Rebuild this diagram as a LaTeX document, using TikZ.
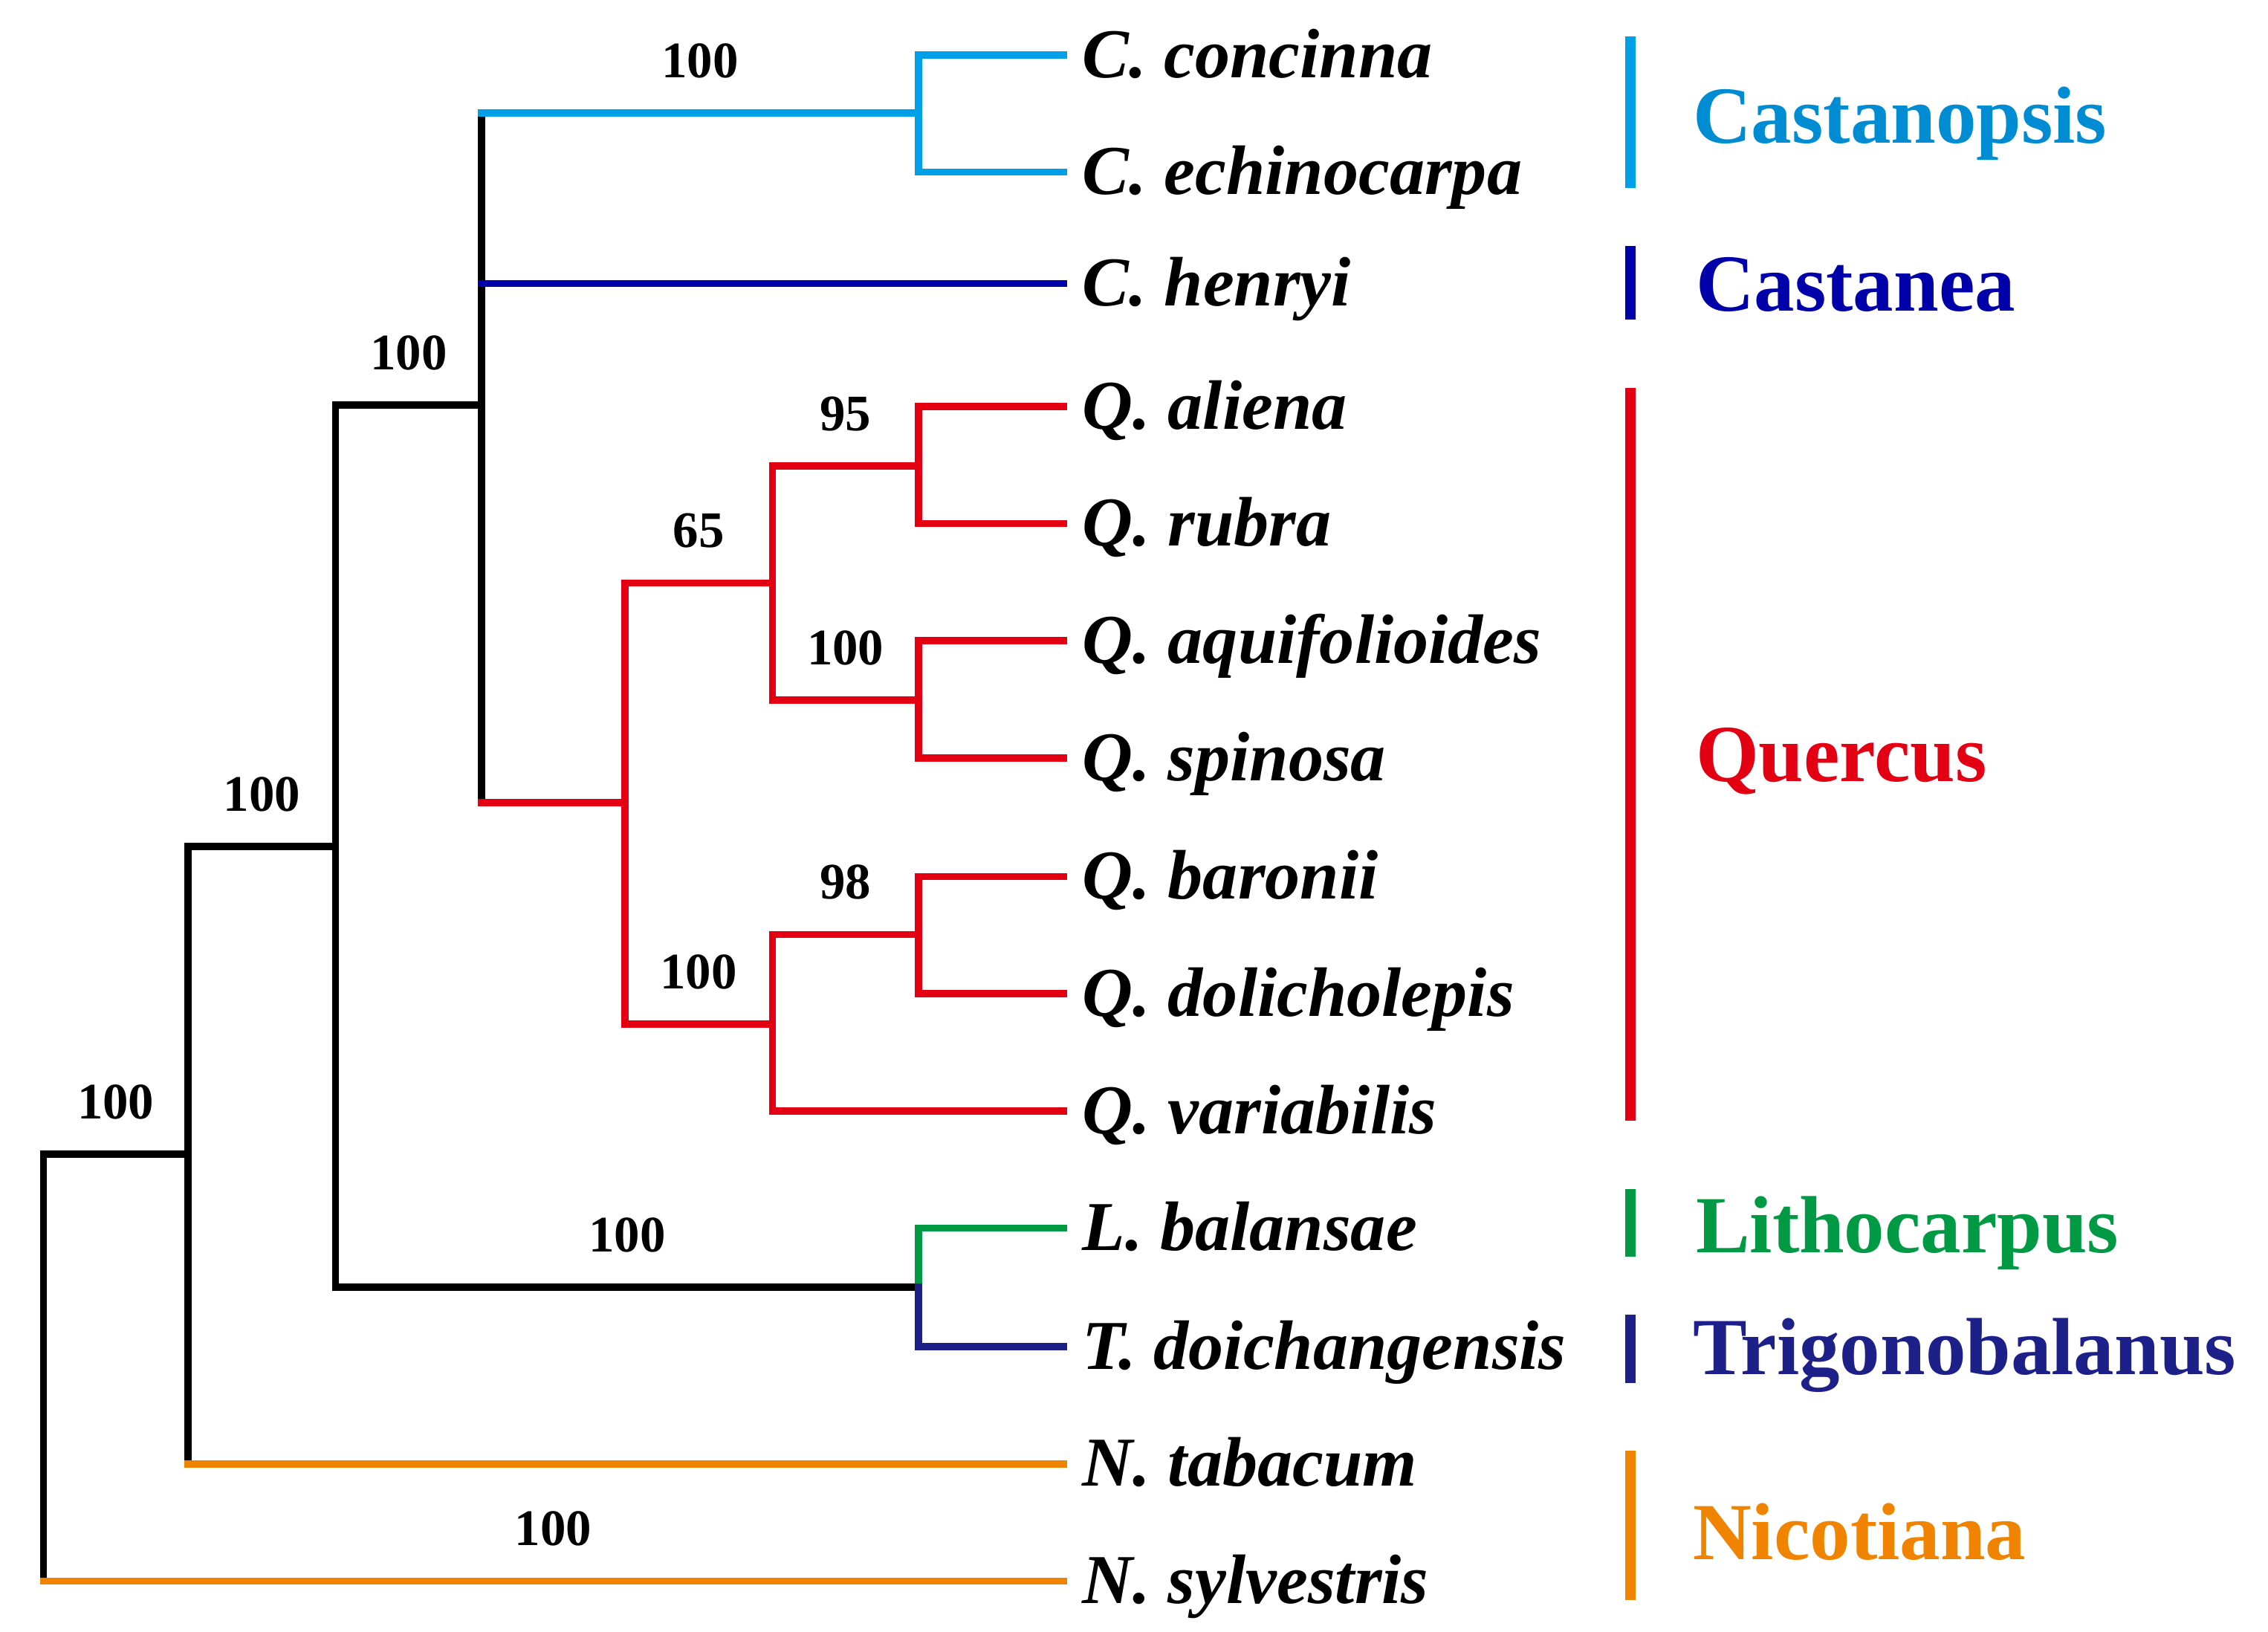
\documentclass[tikz,border=0pt]{standalone}
\usepackage{fontspec}
\setmainfont{Liberation Serif}
\definecolor{cLB}{RGB}{0,160,233}
\definecolor{cLBt}{RGB}{0,140,210}
\definecolor{cCa}{RGB}{0,0,170}
\definecolor{cRd}{RGB}{228,0,18}
\definecolor{cGr}{RGB}{0,153,68}
\definecolor{cTr}{RGB}{29,32,136}
\definecolor{cOr}{RGB}{240,131,0}
\begin{document}
\begin{tikzpicture}[x=0.5pt,y=-0.5pt,
  br/.style={line width=2.5pt, line cap=rect},
  leaf/.style={anchor=base west, inner sep=0pt, font=\fontsize{24.2}{29}\selectfont\bfseries\itshape},
  grp/.style={anchor=base west, inner sep=0pt, font=\fontsize{28}{34}\selectfont\bfseries},
  bs/.style={midway, yshift=18pt, inner sep=0pt, text=black, font=\fontsize{17.7}{21}\selectfont\bfseries},
  bar/.style={line width=3.6pt}]
\useasboundingbox (0,0) rectangle (1568,1128);
% internal nodes
\coordinate (root) at (30,945);
\coordinate (A) at (130,798);
\coordinate (B) at (232,585);
\coordinate (C) at (333,280);
\coordinate (E) at (635,78);
\coordinate (Q) at (432,555);
\coordinate (Q1) at (534,403);
\coordinate (F) at (635,322);
\coordinate (G) at (635,484);
\coordinate (Q2) at (534,708);
\coordinate (H) at (635,646);
\coordinate (D) at (635,890);
% leaves
\coordinate (l1) at (735,38);
\coordinate (l2) at (735,119);
\coordinate (l3) at (735,196);
\coordinate (l4) at (735,281);
\coordinate (l5) at (735,362);
\coordinate (l6) at (735,443);
\coordinate (l7) at (735,524);
\coordinate (l8) at (735,606);
\coordinate (l9) at (735,687);
\coordinate (l10) at (735,768);
\coordinate (l11) at (735,849);
\coordinate (l12) at (735,931);
\coordinate (l13) at (735,1012);
\coordinate (l14) at (735,1093);
\foreach \i/\t in {1/C. concinna,2/C. echinocarpa,3/C. henryi,4/Q. aliena,5/Q. rubra,6/Q. aquifolioides,7/Q. spinosa,8/Q. baronii,9/Q. dolicholepis,10/Q. variabilis,11/L. balansae,12/T. doichangensis,13/N. tabacum,14/N. sylvestris}
  \node[leaf] (t\i) at ([xshift=6.5pt,yshift=-7.75pt]l\i) {\t};
% root
\draw[br] (root |- A) -- (root |- l14);
\draw[br] (root |- A) -- (A) node[bs]{100};
\draw[br,cOr] (root |- l14) -- (l14) node[bs]{100};
% A
\draw[br] (A |- B) -- (A |- l13);
\draw[br] (A |- B) -- (B) node[bs]{100};
\draw[br,cOr] (A |- l13) -- (l13);
% B
\draw[br] (B |- C) -- (B |- D);
\draw[br] (B |- C) -- (C) node[bs]{100};
\draw[br] (B |- D) -- (D) node[bs]{100};
% C
\draw[br] (C |- E) -- (C |- Q);
\draw[br,cLB] (C |- E) -- (E) node[bs]{100};
\draw[br,cCa] (C |- l3) -- (l3);
\draw[br,cRd] (C |- Q) -- (Q);
% E
\draw[br,cLB] (E |- l1) -- (E |- l2);
\draw[br,cLB] (E |- l1) -- (l1);
\draw[br,cLB] (E |- l2) -- (l2);
% Q
\draw[br,cRd] (Q |- Q1) -- (Q |- Q2);
\draw[br,cRd] (Q |- Q1) -- (Q1) node[bs]{65};
\draw[br,cRd] (Q |- Q2) -- (Q2) node[bs]{100};
\draw[br,cRd] (Q1 |- F) -- (Q1 |- G);
\draw[br,cRd] (Q1 |- F) -- (F) node[bs]{95};
\draw[br,cRd] (Q1 |- G) -- (G) node[bs]{100};
\draw[br,cRd] (F |- l4) -- (F |- l5);
\draw[br,cRd] (F |- l4) -- (l4);
\draw[br,cRd] (F |- l5) -- (l5);
\draw[br,cRd] (G |- l6) -- (G |- l7);
\draw[br,cRd] (G |- l6) -- (l6);
\draw[br,cRd] (G |- l7) -- (l7);
\draw[br,cRd] (Q2 |- H) -- (Q2 |- l10);
\draw[br,cRd] (Q2 |- H) -- (H) node[bs]{98};
\draw[br,cRd] (Q2 |- l10) -- (l10);
\draw[br,cRd] (H |- l8) -- (H |- l9);
\draw[br,cRd] (H |- l8) -- (l8);
\draw[br,cRd] (H |- l9) -- (l9);
% D
\draw[br,cGr] (D |- l11) -- (D);
\draw[br,cTr] (D) -- (D |- l12);
\draw[br,cGr] (D |- l11) -- (l11);
\draw[br,cTr] (D |- l12) -- (l12);
% group bars and labels
\draw[bar,cLB] (1127,25) -- (1127,130);
\draw[bar,cCa] (1127,170) -- (1127,221);
\draw[bar,cRd] (1127,268) -- (1127,775);
\draw[bar,cGr] (1127,822) -- (1127,869);
\draw[bar,cTr] (1127,909) -- (1127,956);
\draw[bar,cOr] (1127,1003) -- (1127,1106);
\node[grp,text=cLBt] (g1) at (1170,99) {Castanopsis};
\node[grp,text=cCa] (g2) at (1172,215) {Castanea};
\node[grp,text=cRd] (g3) at (1172,540) {Quercus};
\node[grp,text=cGr] (g4) at (1172,866) {Lithocarpus};
\node[grp,text=cTr] (g5) at (1170,950) {Trigonobalanus};
\node[grp,text=cOr] (g6) at (1170,1078) {Nicotiana};
\end{tikzpicture}
\end{document}
